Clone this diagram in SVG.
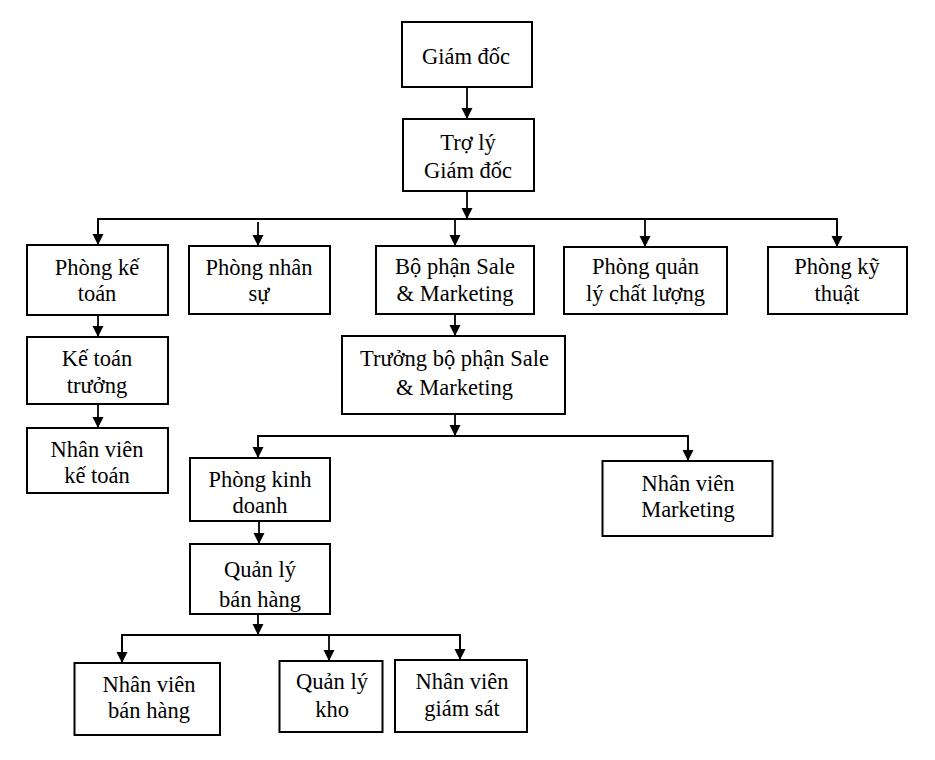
<svg xmlns="http://www.w3.org/2000/svg" width="935" height="760" viewBox="0 0 935 760">
<style>
.box{fill:#fff;stroke:#000;stroke-width:2}
.t{font-family:"Liberation Serif","Times New Roman",serif;font-size:22.5px;fill:#000;text-anchor:middle}
.c{fill:none;stroke:#000;stroke-width:1.8}
</style>
<defs>
<marker id="ah" markerUnits="userSpaceOnUse" markerWidth="12" markerHeight="13" refX="11" refY="5.5" orient="auto">
<path d="M0,0 L11,5.5 L0,11 Z" fill="#000"/>
</marker>
</defs>
<rect width="935" height="760" fill="#fff"/>
<g id="connectors">
<line class="c" x1="467" y1="87" x2="467" y2="119" marker-end="url(#ah)"/>
<line class="c" x1="467" y1="191" x2="467" y2="219" marker-end="url(#ah)"/>
<polyline class="c" points="98,245 98,219 837,219 837,247" />
<line class="c" x1="98" y1="219" x2="98" y2="245" marker-end="url(#ah)"/>
<line class="c" x1="837" y1="219" x2="837" y2="247" marker-end="url(#ah)"/>
<line class="c" x1="258" y1="222" x2="258" y2="246" marker-end="url(#ah)"/>
<line class="c" x1="455" y1="219" x2="455" y2="246" marker-end="url(#ah)"/>
<line class="c" x1="645" y1="219" x2="645" y2="247" marker-end="url(#ah)"/>
<line class="c" x1="98" y1="315" x2="98" y2="337" marker-end="url(#ah)"/>
<line class="c" x1="98" y1="404" x2="98" y2="428" marker-end="url(#ah)"/>
<line class="c" x1="455" y1="314" x2="455" y2="336" marker-end="url(#ah)"/>
<line class="c" x1="455" y1="414" x2="455" y2="436" marker-end="url(#ah)"/>
<polyline class="c" points="258,458 258,436 688,436 688,461"/>
<line class="c" x1="258" y1="436" x2="258" y2="458" marker-end="url(#ah)"/>
<line class="c" x1="688" y1="436" x2="688" y2="461" marker-end="url(#ah)"/>
<line class="c" x1="259" y1="521" x2="259" y2="544" marker-end="url(#ah)"/>
<line class="c" x1="258" y1="614" x2="258" y2="635" marker-end="url(#ah)"/>
<polyline class="c" points="122,663 122,635 460,635 460,660"/>
<line class="c" x1="122" y1="635" x2="122" y2="663" marker-end="url(#ah)"/>
<line class="c" x1="329" y1="635" x2="329" y2="661" marker-end="url(#ah)"/>
<line class="c" x1="460" y1="635" x2="460" y2="660" marker-end="url(#ah)"/>
</g>
<g id="giam-doc"><rect class="box" x="402" y="22" width="130" height="65"/><text class="t" x="466" y="64">Giám đốc</text></g>
<g id="tro-ly"><rect class="box" x="403" y="119" width="131" height="72"/><text class="t" x="468" y="150">Trợ lý</text><text class="t" x="468" y="178">Giám đốc</text></g>
<g id="phong-ke-toan"><rect class="box" x="27" y="245" width="141" height="70"/><text class="t" x="97" y="275">Phòng kế</text><text class="t" x="97" y="301">toán</text></g>
<g id="phong-nhan-su"><rect class="box" x="189" y="246" width="141" height="68"/><text class="t" x="259" y="275">Phòng nhân</text><text class="t" x="259" y="301">sự</text></g>
<g id="bo-phan-sale"><rect class="box" x="376" y="246" width="158" height="68"/><text class="t" x="455" y="274">Bộ phận Sale</text><text class="t" x="455" y="301">&amp; Marketing</text></g>
<g id="phong-qlcl"><rect class="box" x="564" y="247" width="163" height="67"/><text class="t" x="645.5" y="274">Phòng quản</text><text class="t" x="645.5" y="301">lý chất lượng</text></g>
<g id="phong-ky-thuat"><rect class="box" x="768" y="247" width="139" height="67"/><text class="t" x="837" y="274">Phòng kỹ</text><text class="t" x="837" y="301">thuật</text></g>
<g id="ke-toan-truong"><rect class="box" x="27" y="337" width="141" height="67"/><text class="t" x="97" y="366">Kế toán</text><text class="t" x="97" y="393">trưởng</text></g>
<g id="nv-ke-toan"><rect class="box" x="27" y="428" width="141" height="65"/><text class="t" x="97" y="457">Nhân viên</text><text class="t" x="97" y="483">kế toán</text></g>
<g id="truong-bo-phan"><rect class="box" x="342" y="336" width="223" height="78"/><text class="t" x="454.5" y="366">Trưởng bộ phận Sale</text><text class="t" x="454.5" y="395">&amp; Marketing</text></g>
<g id="phong-kinh-doanh"><rect class="box" x="190" y="458" width="140" height="63"/><text class="t" x="260" y="487">Phòng kinh</text><text class="t" x="260" y="513">doanh</text></g>
<g id="nv-marketing"><rect class="box" x="602.5" y="461" width="170" height="75"/><text class="t" x="688" y="491">Nhân viên</text><text class="t" x="688" y="517">Marketing</text></g>
<g id="ql-ban-hang"><rect class="box" x="190" y="544" width="140" height="70"/><text class="t" x="260" y="577">Quản lý</text><text class="t" x="260" y="607">bán hàng</text></g>
<g id="nv-ban-hang"><rect class="box" x="74.5" y="663" width="145.5" height="72"/><text class="t" x="149" y="692">Nhân viên</text><text class="t" x="149" y="718">bán hàng</text></g>
<g id="ql-kho"><rect class="box" x="279.5" y="661" width="103" height="71"/><text class="t" x="332" y="689">Quản lý</text><text class="t" x="332" y="717">kho</text></g>
<g id="nv-giam-sat"><rect class="box" x="395" y="660" width="132" height="72"/><text class="t" x="462" y="689">Nhân viên</text><text class="t" x="462" y="716">giám sát</text></g>
</svg>
